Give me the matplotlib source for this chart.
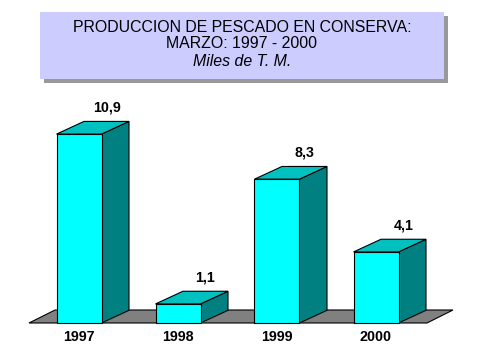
import matplotlib
matplotlib.use("Agg")
import matplotlib.pyplot as plt
from matplotlib.patches import Polygon, Rectangle

years = ["1997", "1998", "1999", "2000"]
values = [10.9, 1.1, 8.3, 4.1]
value_labels = ["10,9", "1,1", "8,3", "4,1"]
title_lines = ["PRODUCCION DE PESCADO EN CONSERVA:", "MARZO: 1997 - 2000", "Miles de T. M."]

plt.rcParams['font.family'] = ['Liberation Sans', 'DejaVu Sans']

W, H = 479, 359
fig = plt.figure(figsize=(W / 100, H / 100), dpi=100)
fig.patch.set_facecolor('white')
ax = fig.add_axes([0, 0, 1, 1])
px_per_cat = 99.0
px_per_val = 17.33
x0_px = 79.0
base_px = 323.0
ax.set_xlim((0 - x0_px) / px_per_cat, (W - x0_px) / px_per_cat)
ax.set_ylim((base_px - H) / px_per_val, base_px / px_per_val)
ax.axis('off')

bw = 45 / px_per_cat
dx = 27.5 / px_per_cat
dy = 12.7 / px_per_val

front_c = '#00FFFF'
side_c = '#008080'
top_c = '#00C0C0'
floor_c = '#808080'

# floor
fl, fr = -0.505, 3.515
fdx = 26 / px_per_cat
fdy = 13 / px_per_val
ax.add_patch(Polygon([(fl, 0), (fr, 0), (fr + fdx, fdy), (fl + fdx, fdy)],
                     closed=True, facecolor=floor_c, edgecolor='black', lw=0.8, zorder=1))

for i, (v, lab) in enumerate(zip(values, value_labels)):
    l, r = i - bw / 2, i + bw / 2
    ax.add_patch(Polygon([(r, 0), (r + dx, dy), (r + dx, v + dy), (r, v)],
                         closed=True, facecolor=side_c, edgecolor='black', lw=0.8, zorder=2))
    ax.add_patch(Polygon([(l, v), (r, v), (r + dx, v + dy), (l + dx, v + dy)],
                         closed=True, facecolor=top_c, edgecolor='black', lw=0.8, zorder=2))
    ax.add_patch(Rectangle((l, 0), bw, v, facecolor=front_c, edgecolor='black', lw=0.8, zorder=3))
    ax.text(i + dx, v + dy + 0.4, lab, ha='center', va='bottom', fontsize=10.3,
            fontweight='bold', zorder=4)
    ax.text(i, -0.4, years[i], ha='center', va='top', fontsize=10.3, fontweight='bold', zorder=4)

# title box with shadow (figure pixel coords)
def fx(px):
    return px / W

def fy(py):
    return 1 - py / H

bx0, bx1, by0, by1 = 40, 444, 12, 79
fig.patches.append(Rectangle((fx(bx0 + 4), fy(by1 + 4)), fx(bx1 - bx0), (by1 - by0) / H,
                             transform=fig.transFigure, facecolor='#999999', edgecolor='none', zorder=1))
fig.patches.append(Rectangle((fx(bx0), fy(by1)), fx(bx1 - bx0), (by1 - by0) / H,
                             transform=fig.transFigure, facecolor='#CCCCFF', edgecolor='none', zorder=2))
cx = fx((bx0 + bx1) / 2)
fig.text(cx, fy(27), title_lines[0], ha='center', va='center', fontsize=11.4, zorder=3)
fig.text(cx, fy(44), title_lines[1], ha='center', va='center', fontsize=11.4, zorder=3)
fig.text(cx, fy(61), title_lines[2], ha='center', va='center', fontsize=11.4, style='italic', zorder=3)

fig.savefig('out.png', dpi=100, facecolor='white')
